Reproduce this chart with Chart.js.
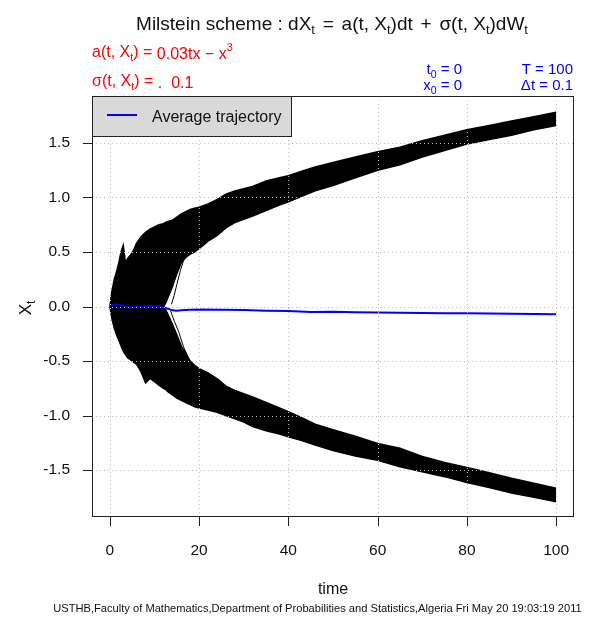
<!DOCTYPE html>
<html><head><meta charset="utf-8">
<script src="https://cdn.jsdelivr.net/npm/chart.js@4/dist/chart.umd.min.js"></script>
<style>html,body{margin:0;padding:0;background:#fff;}canvas{display:block;}</style>
</head><body>
<canvas id="c" width="598" height="617" style="width:598px;height:617px"></canvas>
<script>
// ---- data ----
const bandTimes = [0,0.5,1,1.5,2,2.5,3,3.5,4,5,6,7,8,9,10,11,12,12.5,13,14,15,16,17,18,19,20,22,24,26,28,30,32,35,38,40,43,46,50,55,60,65,70,75,80,85,90,95,100];
const upperBandTop = [0,0.15,0.25,0.32,0.40,0.50,0.56,0.40,0.44,0.49,0.58,0.64,0.68,0.71,0.73,0.75,0.76,0.77,0.78,0.79,0.82,0.85,0.87,0.89,0.90,0.91,0.94,0.98,1.03,1.06,1.08,1.10,1.15,1.18,1.20,1.24,1.28,1.32,1.37,1.42,1.46,1.52,1.57,1.62,1.66,1.70,1.74,1.78];
const upperBandBottom = [0,0,0,0,0,0,0,0,0,0,0,0,0,0,0,0,0,0.03,0.08,0.18,0.30,0.40,0.45,0.48,0.50,0.53,0.60,0.65,0.72,0.77,0.80,0.83,0.88,0.93,0.96,1.01,1.06,1.11,1.18,1.25,1.30,1.37,1.43,1.49,1.53,1.57,1.62,1.66];
const lowerBandTop = [0,0,0,0,0,0,0,0,0,0,0,0,0,0,0,0,0,-0.03,-0.07,-0.16,-0.26,-0.36,-0.43,-0.50,-0.54,-0.57,-0.61,-0.66,-0.73,-0.77,-0.80,-0.83,-0.88,-0.93,-0.965,-1.02,-1.08,-1.13,-1.19,-1.255,-1.30,-1.375,-1.43,-1.475,-1.525,-1.575,-1.62,-1.667];
const lowerBandBottom = [0,-0.12,-0.20,-0.26,-0.31,-0.36,-0.41,-0.44,-0.47,-0.50,-0.53,-0.60,-0.70,-0.66,-0.69,-0.72,-0.75,-0.76,-0.78,-0.81,-0.84,-0.86,-0.88,-0.90,-0.92,-0.93,-0.95,-0.97,-1.00,-1.03,-1.06,-1.10,-1.14,-1.17,-1.195,-1.23,-1.27,-1.32,-1.37,-1.41,-1.47,-1.515,-1.56,-1.615,-1.66,-1.71,-1.75,-1.79];

// a few single trajectories that leave zero late (visible as streaks)
const streak1Times = [12.2,12.8,13.5,14.6,16,18];
const streak1Values = [0.0,0.12,0.25,0.45,0.55,0.56];
const streak2Times = [13.8,14.4,15,15.8,16.5];
const streak2Values = [0.02,0.10,0.20,0.33,0.42];
const streak3Times = [13.6,14.5,15.5,16.5,17.5];
const streak3Values = [-0.04,-0.14,-0.24,-0.37,-0.46];

const avgTimes = [0,1,2,3,4,5,6,8,10,11,12,13,14,15,16,18,20,25,30,35,40,45,50,55,60,65,70,75,80,85,90,95,100];
const avgValues = [0,0.02,0.015,0.005,-0.005,-0.008,0,0.002,0.005,0,-0.01,-0.02,-0.035,-0.04,-0.035,-0.03,-0.028,-0.03,-0.032,-0.038,-0.042,-0.05,-0.048,-0.052,-0.055,-0.058,-0.06,-0.062,-0.063,-0.065,-0.066,-0.068,-0.07];

const xTickValues = [0,20,40,60,80,100];
const yTickValues = [-1.5,-1.0,-0.5,0,0.5,1.0,1.5];

// ---- build chart ----
const FF = '"Liberation Sans", Arial, sans-serif';
const pts = (ts, vs) => ts.map((t,i)=>({x:t,y:vs[i]}));
const edge = (vals, fill) => ({data: pts(bandTimes, vals), borderColor:'#000', borderWidth:1.5, backgroundColor:'#000', fill: fill, pointRadius:0, tension:0});
const streak = (ts, vs) => ({data: pts(ts, vs), borderColor:'#000', borderWidth:1, fill:false, pointRadius:0, tension:0});

function drawRich(ctx, segs, x, y, align, size, color){
  let w = 0;
  for (const g of segs){ ctx.font = (size*(g.s||1))+'px '+FF; g.w = ctx.measureText(g.t).width + (g.gap||0); w += g.w; }
  let cx = align==='center' ? x - w/2 : (align==='right' ? x - w : x);
  ctx.fillStyle = color; ctx.textAlign='left'; ctx.textBaseline='alphabetic';
  for (const g of segs){ ctx.font = (size*(g.s||1))+'px '+FF; ctx.fillText(g.t, cx + (g.pre||0), y + (g.dy||0)); cx += g.w; }
  return w;
}

const decor = {
  id:'decor',
  afterDatasetsDraw(chart){
    const ctx = chart.ctx, a = chart.chartArea, xs = chart.scales.x, ys = chart.scales.y;
    ctx.save();
    ctx.strokeStyle = '#bdbdbd'; ctx.lineWidth = 1; ctx.setLineDash([1,3]);
    for (const v of xTickValues){ const p = Math.round(xs.getPixelForValue(v))+0.5; ctx.beginPath(); ctx.moveTo(p,a.top); ctx.lineTo(p,a.bottom); ctx.stroke(); }
    for (const v of yTickValues){ const p = Math.round(ys.getPixelForValue(v))+0.5; ctx.beginPath(); ctx.moveTo(a.left,p); ctx.lineTo(a.right,p); ctx.stroke(); }
    ctx.setLineDash([]);
    ctx.restore();
  },
  afterDraw(chart){
    const ctx = chart.ctx, a = chart.chartArea, xs = chart.scales.x, ys = chart.scales.y;
    ctx.save();
    ctx.strokeStyle = '#222'; ctx.lineWidth = 1;
    ctx.strokeRect(Math.round(a.left)+0.5, Math.round(a.top)+0.5, Math.round(a.right-a.left)-1, Math.round(a.bottom-a.top)-1);
    for (const v of xTickValues){ const p = Math.round(xs.getPixelForValue(v))+0.5; ctx.beginPath(); ctx.moveTo(p,a.bottom); ctx.lineTo(p,a.bottom+9); ctx.stroke(); }
    for (const v of yTickValues){ const p = Math.round(ys.getPixelForValue(v))+0.5; ctx.beginPath(); ctx.moveTo(a.left-9,p); ctx.lineTo(a.left,p); ctx.stroke(); }
    // legend
    ctx.fillStyle = '#d9d9d9'; ctx.fillRect(a.left, a.top, 199, 40);
    ctx.strokeStyle = '#222'; ctx.strokeRect(a.left+0.5, a.top+0.5, 199, 40);
    ctx.strokeStyle = '#0000ff'; ctx.lineWidth = 2; ctx.beginPath(); ctx.moveTo(107,115); ctx.lineTo(137,115); ctx.stroke();
    drawRich(ctx, [{t:'Average trajectory'}], 152, 122, 'left', 16, '#111');
    // title
    const sub = {dy:4, s:0.68};
    drawRich(ctx, [{t:'Milstein scheme : dX'},{t:'t',...sub},{t:' = ',gap:5,pre:2.5},{t:'a(t, X'},{t:'t',...sub},{t:')dt'},{t:' + ',gap:5,pre:2.5},{t:'σ(t, X'},{t:'t',...sub},{t:')dW'},{t:'t',...sub}], 332, 30, 'center', 19, '#111');
    // red formulas
    drawRich(ctx, [{t:'a(t, X'},{t:'t',...sub},{t:') = '},{t:'0.03tx − x',dy:2},{t:'3',dy:-6,s:0.68}], 92, 57, 'left', 16, '#ff0000');
    drawRich(ctx, [{t:'σ(t, X'},{t:'t',...sub},{t:') = '},{t:'.  ',dy:2},{t:'0.1',dy:2}], 92, 86, 'left', 16, '#ff0000');
    // blue parameters
    drawRich(ctx, [{t:'t'},{t:'0',dy:4,s:0.7},{t:' = 0'}], 462, 74, 'right', 15, '#0000ff');
    drawRich(ctx, [{t:'x'},{t:'0',dy:4,s:0.7},{t:' = 0'}], 462, 90, 'right', 15, '#0000ff');
    drawRich(ctx, [{t:'T = 100'}], 573, 74, 'right', 15, '#0000ff');
    drawRich(ctx, [{t:'Δt = 0.1'}], 573, 90, 'right', 15, '#0000ff');
    // axis titles
    drawRich(ctx, [{t:'time'}], 333, 594, 'center', 16, '#111');
    ctx.translate(31, 308); ctx.rotate(-Math.PI/2);
    drawRich(ctx, [{t:'X'},{t:'t',dy:4,s:0.7}], 0, 0, 'center', 17, '#111');
    ctx.setTransform(1,0,0,1,0,0);
    // footer
    const foot = 'USTHB,Faculty of Mathematics,Department of Probabilities and Statistics,Algeria Fri May 20 19:03:19 2011';
    ctx.font = '11px '+FF; const fw = ctx.measureText(foot).width;
    const fs = 11*529/fw;
    drawRich(ctx, [{t:foot}], 317.5, 612, 'center', fs, '#111');
    ctx.restore();
  }
};

new Chart(document.getElementById('c'), {
  type:'line',
  data:{datasets:[
    {data: pts(avgTimes, avgValues), borderColor:'#0000ff', borderWidth:2, fill:false, pointRadius:0, tension:0},
    edge(upperBandTop, '+1'),
    edge(upperBandBottom, false),
    edge(lowerBandTop, '+1'),
    edge(lowerBandBottom, false),
    streak(streak1Times, streak1Values),
    streak(streak2Times, streak2Values),
    streak(streak3Times, streak3Values)
  ]},
  options:{
    responsive:false, animation:false, devicePixelRatio:1,
    layout:{padding:{top:96, right:24, left:0, bottom:0}},
    plugins:{legend:{display:false}, tooltip:{enabled:false}},
    scales:{
      x:{type:'linear', min:-4, max:104,
        afterBuildTicks:s=>{s.ticks = xTickValues.map(v=>({value:v}));},
        afterFit:s=>{s.height = 100;},
        grid:{display:false}, border:{display:false},
        ticks:{color:'#111', font:{family:FF, size:15.5}, padding:16, maxRotation:0, autoSkip:false, callback:v=>String(v)}
      },
      y:{type:'linear', min:-1.93, max:1.93,
        afterBuildTicks:s=>{s.ticks = yTickValues.map(v=>({value:v}));},
        afterFit:s=>{s.width = 92;},
        grid:{display:false}, border:{display:false},
        ticks:{color:'#111', font:{family:FF, size:15.5}, padding:14, autoSkip:false, callback:v=>Number(v).toFixed(1)}
      }
    }
  },
  plugins:[decor]
});
</script>
</body></html>
